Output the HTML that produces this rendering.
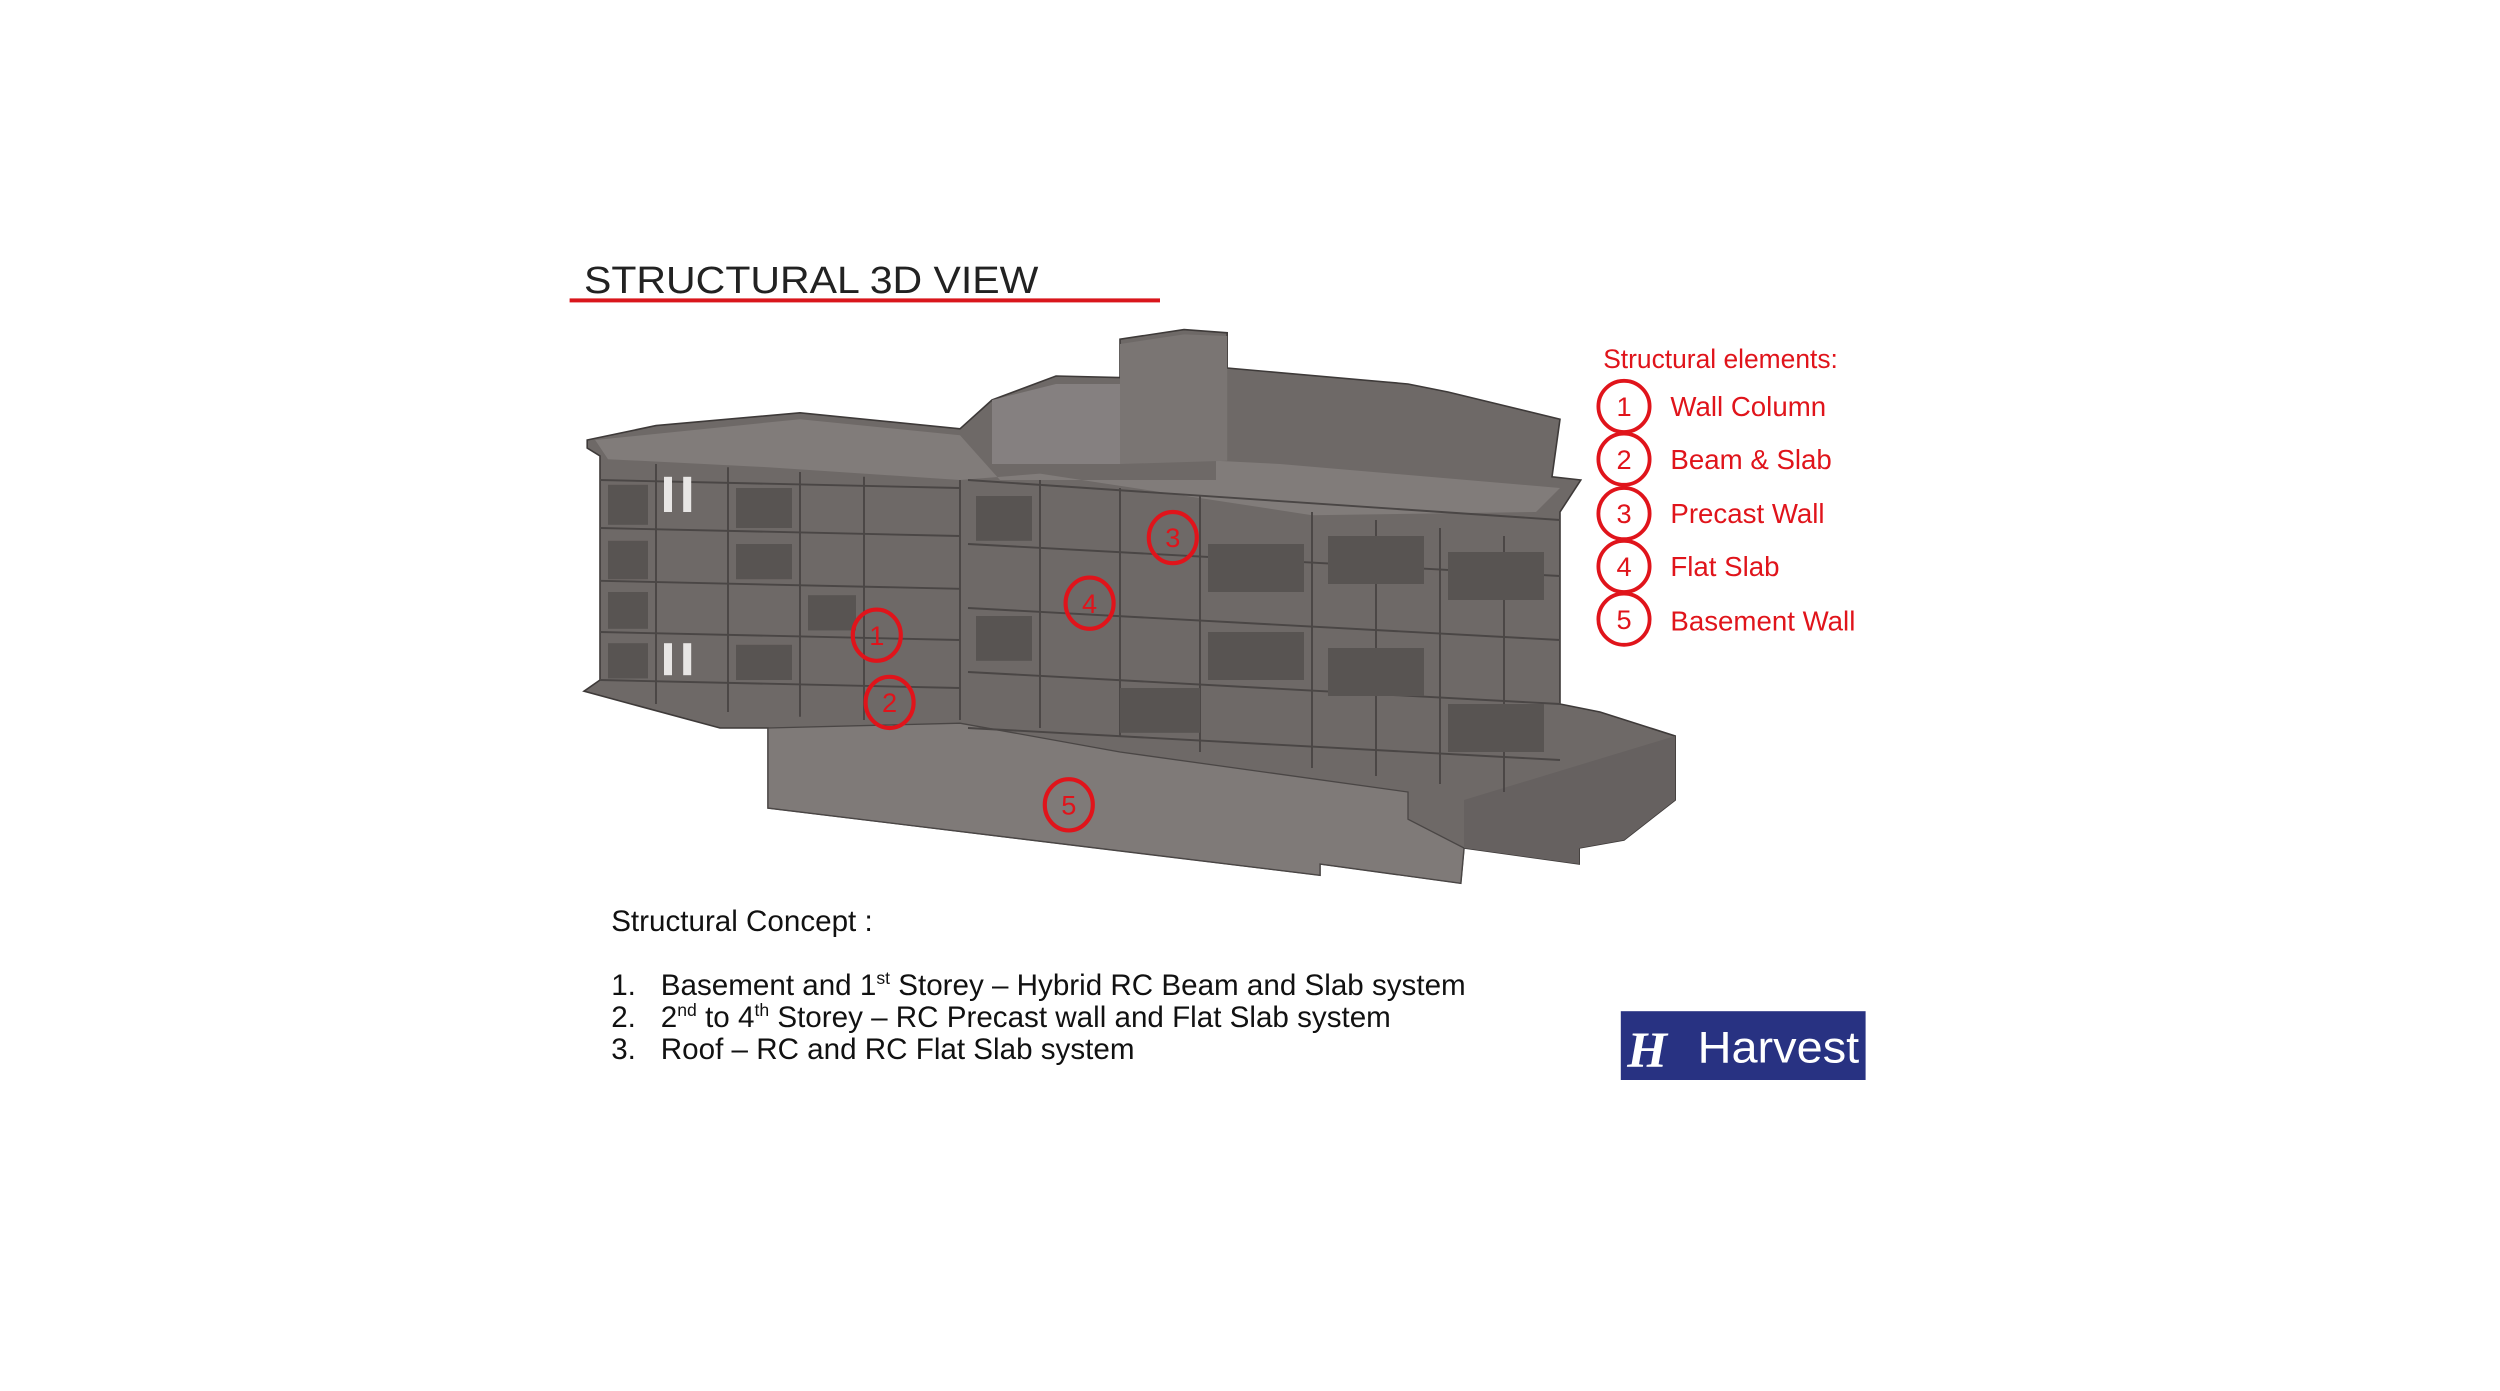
<!DOCTYPE html>
<html><head><meta charset="utf-8"><style>
html,body{margin:0;padding:0;background:#fff;}
svg{display:block}
</style></head><body>
<svg width="2500" height="1391" viewBox="0 0 1562.5 869.375" xmlns="http://www.w3.org/2000/svg">
<rect width="1562.5" height="869.375" fill="#fff"/>
<text x="365" y="183" font-family="Liberation Sans, sans-serif" font-size="24" fill="#222" textLength="284" lengthAdjust="spacingAndGlyphs">STRUCTURAL 3D VIEW</text>
<rect x="356" y="186.5" width="369" height="2.5" fill="#d9161c"/>
<g>
<polygon fill="#6e6967" stroke="#3e3a39" stroke-width="1" points="367,275 410,266 500,258 600,268 620,250 660,235 700,236 700,212 740,206 767,208 767,230 880,240 905,245 975,262 970,298 988,300 975,320 975,440 1000,445 1047,460 1047,500 1015,525 987,530 987,540 915,530 913,552 825,540 825,547 480,505 480,455 450,455 365,432 375,425 375,285 367,280"/>
<polygon fill="#817c7a" points="372,275 500,262 600,272 625,300 760,300 760,288 800,290 975,305 960,320 820,322 650,296 600,300 480,292 380,287"/>
<polygon fill="#858080" points="620,250 660,240 700,240 700,290 620,290"/>
<polygon fill="#7a7573" points="700,215 740,209 767,210 767,288 700,290"/>
<polygon fill="#7f7a78" stroke="#4a4645" stroke-width="0.8" points="480,455 600,452 700,470 880,495 880,512 915,530 913,552 825,540 825,547 480,505"/>
<polygon fill="#666160" points="915,500 1047,460 1047,500 1015,525 987,530 987,540 915,530"/>
<g stroke="#4a4645" stroke-width="1.2" fill="none">
<path d="M375,300 L600,305 M375,330 L600,335 M375,363 L600,368 M375,395 L600,400 M375,425 L600,430"/>
<path d="M605,300 L975,325 M605,340 L975,360 M605,380 L975,400 M605,420 L975,440 M605,455 L975,475"/>
<path d="M410,290 V440 M455,292 V445 M500,295 V448 M540,298 V450 M600,300 V450 M650,300 V455 M700,305 V460 M750,310 V470 M820,320 V480 M860,325 V485 M900,330 V490 M940,335 V495"/>
</g>
<g fill="#585452">
<rect x="380" y="303" width="25" height="25"/><rect x="380" y="338" width="25" height="24"/><rect x="380" y="370" width="25" height="23"/><rect x="380" y="402" width="25" height="22"/>
<rect x="460" y="305" width="35" height="25"/><rect x="460" y="340" width="35" height="22"/><rect x="505" y="372" width="30" height="22"/><rect x="460" y="403" width="35" height="22"/>
<rect x="610" y="310" width="35" height="28"/><rect x="610" y="385" width="35" height="28"/><rect x="755" y="340" width="60" height="30"/><rect x="755" y="395" width="60" height="30"/>
<rect x="830" y="335" width="60" height="30"/><rect x="830" y="405" width="60" height="30"/><rect x="905" y="345" width="60" height="30"/><rect x="905" y="440" width="60" height="30"/>
<rect x="700" y="430" width="50" height="28"/>
</g>
<g fill="#e8e6e5"><rect x="415" y="298" width="5" height="22"/><rect x="415" y="402" width="5" height="20"/><rect x="427" y="298" width="5" height="22"/><rect x="427" y="402" width="5" height="20"/></g>
</g>
<g fill="none" stroke="#e0141b" stroke-width="2.6">
<ellipse cx="548" cy="397" rx="15" ry="16"/>
<ellipse cx="556" cy="439" rx="15" ry="16"/>
<ellipse cx="733" cy="336" rx="15" ry="16"/>
<ellipse cx="681" cy="377" rx="15" ry="16"/>
<ellipse cx="668" cy="503" rx="15" ry="16"/>
</g>
<g fill="#e0141b" font-family="Liberation Sans, sans-serif" font-size="17" text-anchor="middle">
<text x="548" y="403">1</text><text x="556" y="445">2</text><text x="733" y="342">3</text><text x="681" y="383">4</text><text x="668" y="509">5</text>
</g>
<g font-family="Liberation Sans, sans-serif" fill="#e0141b">
<text x="1002" y="230" font-size="16.5">Structural elements:</text>
<g fill="none" stroke="#e0141b" stroke-width="2.4">
<circle cx="1015" cy="254" r="16"/><circle cx="1015" cy="287" r="16"/><circle cx="1015" cy="321" r="16"/><circle cx="1015" cy="354" r="16"/><circle cx="1015" cy="387" r="16"/>
</g>
<g font-size="17" text-anchor="middle"><text x="1015" y="260">1</text><text x="1015" y="293">2</text><text x="1015" y="327">3</text><text x="1015" y="360">4</text><text x="1015" y="393">5</text></g>
<g font-size="17.3"><text x="1044" y="260">Wall Column</text><text x="1044" y="293">Beam &amp; Slab</text><text x="1044" y="327">Precast Wall</text><text x="1044" y="360">Flat Slab</text><text x="1044" y="394">Basement Wall</text></g>
</g>
<g font-family="Liberation Sans, sans-serif" fill="#111" font-size="18.5">
<text x="382" y="582">Structural Concept :</text>
<text x="382" y="622">1.</text><text x="413" y="622">Basement and 1<tspan font-size="11" dy="-7">st</tspan><tspan dy="7"> Storey – Hybrid RC Beam and Slab system</tspan></text>
<text x="382" y="642">2.</text><text x="413" y="642">2<tspan font-size="11" dy="-7">nd</tspan><tspan dy="7"> to 4</tspan><tspan font-size="11" dy="-7">th</tspan><tspan dy="7"> Storey – RC Precast wall and Flat Slab system</tspan></text>
<text x="382" y="662">3.</text><text x="413" y="662">Roof – RC and RC Flat Slab system</text>
</g>
<rect x="1013" y="632" width="153" height="43" fill="#283282"/>
<text x="1017" y="667" font-family="Liberation Serif, serif" font-style="italic" font-weight="bold" font-size="32" fill="#fff">H</text>
<text x="1061" y="664" font-family="Liberation Sans, sans-serif" font-size="28" fill="#fff" textLength="101" lengthAdjust="spacingAndGlyphs">Harvest</text>
</svg>
</body></html>
